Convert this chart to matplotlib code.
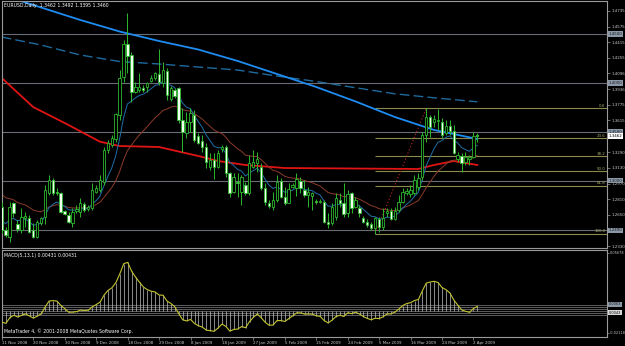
import numpy as np
import matplotlib
matplotlib.use("Agg")
import matplotlib.pyplot as plt


### EURUSD daily bars, 11 Nov 2008 .. 3 Apr 2009 (MT4 feed with Sunday bars)
opens = [1.2733, 1.2495, 1.2426, 1.2768, 1.2556, 1.2495, 1.2614, 1.2614, 1.2495, 1.2420,
         1.2563, 1.2631, 1.2870, 1.3006, 1.2887, 1.2870, 1.2692, 1.2648, 1.2570, 1.2689,
         1.2682, 1.2761, 1.2706, 1.2716, 1.2887, 1.2904, 1.2989, 1.3313, 1.3364, 1.3422,
         1.3671, 1.4063, 1.4398, 1.4285, 1.3910, 1.3927, 1.3944, 1.3961, 1.4022, 1.4046,
         1.4091, 1.3995, 1.4125, 1.3832, 1.3927, 1.3944, 1.3620, 1.3484, 1.3603, 1.3671,
         1.3456, 1.3409, 1.3347, 1.3143, 1.3211, 1.3143, 1.3320, 1.3340, 1.3074, 1.2887,
         1.2989, 1.2887, 1.2955, 1.2870, 1.3143, 1.3177, 1.3143, 1.2921, 1.2768, 1.2733,
         1.2802, 1.2999, 1.2836, 1.2774, 1.2938, 1.2921, 1.2999, 1.2904, 1.2853, 1.2843,
         1.2788, 1.2781, 1.2785, 1.2580, 1.2563, 1.2631, 1.2802, 1.2774, 1.2665, 1.2870,
         1.2733, 1.2716, 1.2614, 1.2580, 1.2556, 1.2512, 1.2604, 1.2529, 1.2672, 1.2692,
         1.2604, 1.2699, 1.2785, 1.2877, 1.2863, 1.2870, 1.2938, 1.3040, 1.3467, 1.3647,
         1.3603, 1.3610, 1.3603, 1.3484, 1.3559, 1.3511, 1.3218, 1.3252, 1.3194, 1.3218,
         1.3245, 1.3462]
highs = [1.2785, 1.2529, 1.2785, 1.2785, 1.2597, 1.2716, 1.2682, 1.2648, 1.2563, 1.2597,
         1.2631, 1.2955, 1.3057, 1.3023, 1.2921, 1.2887, 1.2699, 1.2682, 1.2716, 1.2750,
         1.2819, 1.2785, 1.2750, 1.2972, 1.2955, 1.3057, 1.3347, 1.3415, 1.3467, 1.3688,
         1.4131, 1.4438, 1.4711, 1.4319, 1.4012, 1.4097, 1.3978, 1.4012, 1.4080, 1.4114,
         1.4343, 1.4217, 1.4149, 1.3968, 1.3944, 1.3961, 1.3739, 1.3705, 1.3739, 1.3722,
         1.3484, 1.3467, 1.3381, 1.3279, 1.3279, 1.3313, 1.3364, 1.3364, 1.3091, 1.3074,
         1.3074, 1.3057, 1.2989, 1.3262, 1.3313, 1.3296, 1.3177, 1.2972, 1.2802, 1.2887,
         1.3057, 1.3023, 1.2938, 1.2972, 1.2972, 1.3074, 1.3040, 1.3006, 1.2938, 1.2887,
         1.2808, 1.2808, 1.2802, 1.2665, 1.2768, 1.2870, 1.2870, 1.2972, 1.2904, 1.2887,
         1.2836, 1.2750, 1.2638, 1.2604, 1.2580, 1.2631, 1.2631, 1.2716, 1.2716, 1.2716,
         1.2733, 1.2853, 1.2921, 1.2921, 1.2955, 1.3057, 1.3074, 1.3501, 1.3739, 1.3671,
         1.3671, 1.3729, 1.3637, 1.3620, 1.3620, 1.3569, 1.3296, 1.3279, 1.3296, 1.3262,
         1.3501, 1.3492]
lows = [1.2461, 1.2426, 1.2375, 1.2631, 1.2478, 1.2461, 1.2529, 1.2461, 1.2409, 1.2409,
        1.2546, 1.2556, 1.2853, 1.2853, 1.2853, 1.2665, 1.2648, 1.2563, 1.2529, 1.2665,
        1.2631, 1.2682, 1.2692, 1.2699, 1.2870, 1.2887, 1.2955, 1.3279, 1.3347, 1.3398,
        1.3620, 1.4012, 1.4097, 1.3808, 1.3893, 1.3910, 1.3910, 1.3910, 1.4012, 1.4029,
        1.3978, 1.3961, 1.3825, 1.3818, 1.3842, 1.3586, 1.3296, 1.3432, 1.3501, 1.3398,
        1.3374, 1.3296, 1.3126, 1.3109, 1.3013, 1.3126, 1.3296, 1.3040, 1.2836, 1.2870,
        1.2836, 1.2750, 1.2853, 1.2853, 1.3126, 1.3091, 1.2904, 1.2750, 1.2716, 1.2699,
        1.2785, 1.2819, 1.2750, 1.2768, 1.2921, 1.2843, 1.2870, 1.2836, 1.2733, 1.2699,
        1.2761, 1.2768, 1.2563, 1.2512, 1.2546, 1.2597, 1.2733, 1.2631, 1.2631, 1.2665,
        1.2716, 1.2631, 1.2563, 1.2529, 1.2495, 1.2457, 1.2478, 1.2495, 1.2631, 1.2597,
        1.2597, 1.2682, 1.2768, 1.2853, 1.2836, 1.2853, 1.2904, 1.3006, 1.3398, 1.3450,
        1.3552, 1.3518, 1.3432, 1.3467, 1.3467, 1.3272, 1.3194, 1.3091, 1.3160, 1.3160,
        1.3228, 1.3395]
closes = [1.2495, 1.2443, 1.2733, 1.2672, 1.2501, 1.2631, 1.2638, 1.2478, 1.2426, 1.2573,
          1.2614, 1.2904, 1.3006, 1.2877, 1.2870, 1.2682, 1.2658, 1.2580, 1.2682, 1.2706,
          1.2768, 1.2699, 1.2733, 1.2904, 1.2921, 1.3006, 1.3313, 1.3381, 1.3432, 1.3678,
          1.4046, 1.4398, 1.4278, 1.3910, 1.3961, 1.3961, 1.3927, 1.3995, 1.4046, 1.4097,
          1.4012, 1.4131, 1.3876, 1.3944, 1.3866, 1.3620, 1.3501, 1.3603, 1.3688, 1.3415,
          1.3388, 1.3347, 1.3194, 1.3211, 1.3143, 1.3279, 1.3347, 1.3074, 1.2870, 1.3040,
          1.2972, 1.3040, 1.2870, 1.3177, 1.3194, 1.3218, 1.2921, 1.2785, 1.2740, 1.2802,
          1.2989, 1.2836, 1.2768, 1.2911, 1.2955, 1.3013, 1.2921, 1.2853, 1.2887, 1.2870,
          1.2781, 1.2788, 1.2580, 1.2556, 1.2733, 1.2819, 1.2768, 1.2658, 1.2863, 1.2716,
          1.2802, 1.2665, 1.2580, 1.2546, 1.2512, 1.2614, 1.2529, 1.2614, 1.2692, 1.2604,
          1.2692, 1.2785, 1.2887, 1.2894, 1.2904, 1.3006, 1.3023, 1.3467, 1.3654, 1.3552,
          1.3627, 1.3620, 1.3467, 1.3559, 1.3511, 1.3286, 1.3262, 1.3177, 1.3245, 1.3238,
          1.3456, 1.3460]

date_ticks = [0, 8, 16, 24, 32, 40, 48, 56, 64, 72, 80, 88, 96, 104, 112, 120]
date_labels = ["11 Nov 2008", "20 Nov 2008", "30 Nov 2008", "9 Dec 2008", "18 Dec 2008",
               "29 Dec 2008", "8 Jan 2009", "18 Jan 2009", "27 Jan 2009", "5 Feb 2009",
               "15 Feb 2009", "24 Feb 2009", "5 Mar 2009", "16 Mar 2009", "24 Mar 2009",
               "2 Apr 2009"]

# long moving averages at a few bars
ma_long_bars = [0, 10, 20, 30, 40, 50, 60, 70, 80, 90, 100, 110, 121]
ma_blue_vals = [1.4899, 1.4771, 1.4643, 1.4525, 1.4428, 1.4341, 1.4224, 1.4091, 1.3958,
                1.3810, 1.3651, 1.3518, 1.3426]
ma_dash_vals = [1.4469, 1.4387, 1.4285, 1.4218, 1.4193, 1.4162, 1.4131, 1.4070, 1.4014,
                1.3950, 1.3888, 1.3847, 1.3806]
ma_red_bars = [0, 8, 17, 25, 30, 40, 50, 55, 62, 72, 106, 110, 115, 121]
ma_red_vals = [1.4050, 1.3753, 1.3569, 1.3398, 1.3354, 1.3344, 1.3252, 1.3201, 1.3160,
               1.3129, 1.3119, 1.3160, 1.3200, 1.3160]

# starting levels of the short averages at the left edge
ema8_seed, ema21_seed = 1.262, 1.290
macd_fast_seed, macd_slow_seed = 1.262, 1.272
macd_shown = 0.00431

h_levels = [1.4500, 1.4000, 1.3500, 1.3000, 1.2490]
price_ticks = [1.4735, 1.4575, 1.4415, 1.4255, 1.4096, 1.3936, 1.3775, 1.3615, 1.3290,
               1.3130, 1.2970, 1.2810, 1.2650, 1.2330]

fib_low_bar, fib_low = 95, 1.2457
fib_high_bar, fib_high = 108, 1.3738
fib_pcts = [0.0, 23.6, 38.2, 50.0, 61.8, 100.0]

macd_levels = [0.0063, 0.0042, 0.0021, 0.0, -0.0021, -0.0042]
macd_ticks = [0.05678, -0.02118]


def ema(values, n, seed):
    k = 2.0 / (n + 1)
    out = []
    prev = seed
    for v in values:
        prev = prev + k * (v - prev)
        out.append(prev)
    return np.array(out)


W, H = 625, 346
fig = plt.figure(figsize=(W / 100, H / 100), dpi=100, facecolor="black")


def px_axes(x0, y0, x1, y1):
    a = fig.add_axes([x0 / W, 1 - y1 / H, (x1 - x0) / W, (y1 - y0) / H])
    a.set_facecolor("black")
    for s in a.spines.values():
        s.set_color("#9a9a9a")
        s.set_linewidth(0.8)
    return a


ax = px_axes(2, 1, 607, 248)
axm = px_axes(2, 250, 607, 337)

o, h, l, c = map(np.array, (opens, highs, lows, closes))
idx = np.arange(len(c))
xmin, xmax = 0.08, 154.0

label_col = "#c8c8c8"
fs = 3.3
fs_axis = 2.9

### main chart
for v in h_levels:
    ax.axhline(v, color="#686c76", lw=0.8, zorder=1)

# fibo retracement
span = fib_high - fib_low
for p in fib_pcts:
    lvl = fib_high - p / 100 * span
    ax.hlines(lvl, fib_low_bar, xmax, color="#8a8a4e", lw=0.8, zorder=1)
    ax.text(xmax - 0.4, lvl + 0.0004, f"{p:.1f}", ha="right", va="bottom",
            fontsize=fs_axis, color="#a8a868", zorder=6)
ax.plot([fib_low_bar, fib_high_bar], [fib_low, fib_high], color="#c02828",
        lw=0.8, ls=(0, (1, 2)), zorder=2)

ax.plot(ma_long_bars, ma_dash_vals, color="#1f6a9c", lw=1.0, ls=(0, (7, 3)), zorder=2)
ax.plot(ma_long_bars, ma_blue_vals, color="#1e8cf0", lw=1.3, zorder=2)
ax.plot(ma_red_bars, ma_red_vals, color="#e01414", lw=1.3, zorder=2)

ax.plot(idx, ema(c, 21, ema21_seed), color="#8c3a2a", lw=0.7, zorder=2)
ax.plot(idx, ema(c, 8, ema8_seed), color="#1f6ea8", lw=0.7, zorder=2)

# candles
green = "#2db82d"
up = c >= o
ax.vlines(idx, l, h, color=green, lw=0.7, zorder=3)
body = np.maximum(np.abs(c - o), 0.0004)
ax.bar(idx[up], body[up], bottom=o[up], width=0.6, color="black",
       edgecolor=green, lw=0.6, zorder=4)
ax.bar(idx[~up], body[~up], bottom=c[~up], width=0.6, color="#f0fff0",
       edgecolor=green, lw=0.6, zorder=4)

ax.set_xlim(xmin, xmax)
ax.set_ylim(1.2311, 1.4837)
ax.set_xticks([])
ax.yaxis.tick_right()
ax.set_yticks(price_ticks)
ax.set_yticklabels([f"{v:.4f}" for v in price_ticks])
ax.tick_params(axis="y", colors="#9a9a9a", labelcolor=label_col, labelsize=fs_axis,
               length=2, width=0.5, pad=1.2)

# boxed price labels on the right
for v in h_levels:
    ax.text(1.003, v, f"{v:.4f}", transform=ax.get_yaxis_transform(), fontsize=fs_axis,
            color="#1c1c1c", va="center", ha="left",
            bbox=dict(boxstyle="square,pad=0.2", fc="#8a98a8", ec="none"))
ax.text(1.003, closes[-1] - 0.0004, f"{opens[-1]:.4f}", transform=ax.get_yaxis_transform(),
        fontsize=fs_axis, color="black", va="center", ha="left",
        bbox=dict(boxstyle="square,pad=0.2", fc="white", ec="none"))

ax.text(0.004, 0.99, f"EURUSD,Daily  {opens[-1]:.4f} {highs[-1]:.4f} {lows[-1]:.4f} {closes[-1]:.4f}",
        transform=ax.transAxes, fontsize=fs, color="white", va="top", ha="left")

### MACD(5,13,1)
macd = ema(c, 5, macd_fast_seed) - ema(c, 13, macd_slow_seed)
for v in macd_levels:
    axm.axhline(v, color="#6c6c6c", lw=0.6, zorder=1)
axm.vlines(idx, 0, macd, color="#c0c0c0", lw=0.5, zorder=2)
axm.plot(idx, macd, color="#c4c430", lw=0.8, zorder=3)

axm.set_xlim(xmin, xmax)
axm.set_ylim(-0.02535, 0.0595)
axm.yaxis.tick_right()
axm.set_yticks(macd_ticks)
axm.set_yticklabels([f"{v:.5f}" for v in macd_ticks])
axm.tick_params(axis="y", colors="#9a9a9a", labelcolor=label_col, labelsize=2.5,
                length=1.5, width=0.5, pad=0.8)
axm.set_xticks(date_ticks)
axm.set_xticklabels(date_labels, ha="left")
axm.tick_params(axis="x", colors="#9a9a9a", labelcolor=label_col, labelsize=fs_axis,
                length=2, width=0.5, pad=1.0)

axm.text(1.003, macd_levels[0] + 0.0005, "0.0063", transform=axm.get_yaxis_transform(),
         fontsize=2.5, color="#1c1c1c", va="center", ha="left",
         bbox=dict(boxstyle="square,pad=0.15", fc="#8a98a8", ec="none"))
axm.text(1.003, macd_levels[4] + 0.0002, f"{macd_shown:.4f}", transform=axm.get_yaxis_transform(),
         fontsize=2.5, color="black", va="center", ha="left",
         bbox=dict(boxstyle="square,pad=0.15", fc="#d8d8d8", ec="none"))

axm.text(0.004, 0.96, f"MACD(5,13,1) {macd_shown:.5f} {macd_shown:.5f}", transform=axm.transAxes,
         fontsize=fs, color="white", va="top", ha="left")
axm.text(0.004, 0.03, "MetaTrader 4, \u00a9 2001-2008 MetaQuotes Software Corp.",
         transform=axm.transAxes, fontsize=fs, color="white", va="bottom", ha="left")

fig.savefig("out.png", dpi=100, facecolor="black")
